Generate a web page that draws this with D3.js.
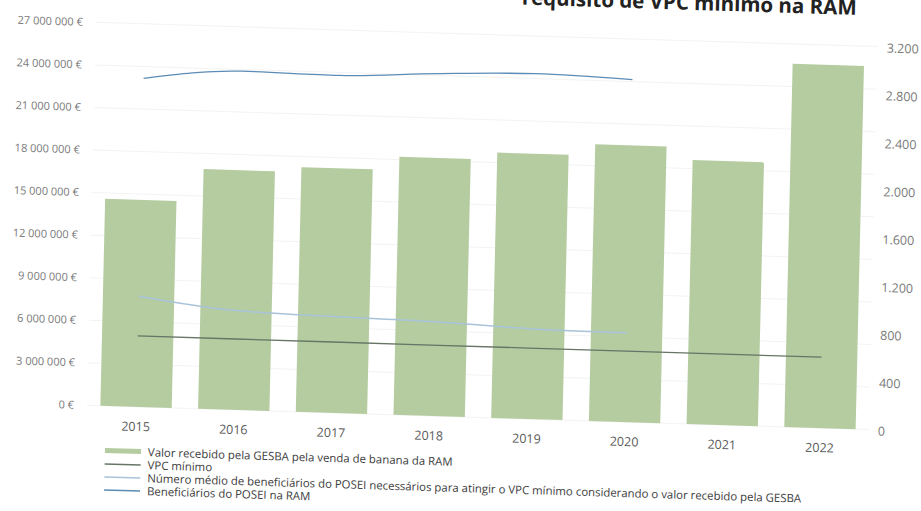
<!DOCTYPE html>
<html>
<head>
<meta charset="utf-8">
<title>VPC mínimo na RAM</title>
<style>
  body { margin: 0; background: #fff; }
  svg { display: block; }
</style>
</head>
<body>
<div id="chart"></div>
<script src="https://cdnjs.cloudflare.com/ajax/libs/d3/7.8.5/d3.min.js"></script>
<script>
// data
var years = ["2015", "2016", "2017", "2018", "2019", "2020", "2021", "2022"];
var valorGesba = [14600000, 16900000, 17250000, 18200000, 18700000, 19500000, 18600000, 25600000];
var vpcMinimo = [5000000, 5000000, 5000000, 5000000, 5000000, 5000000, 5000000, 5000000];
var numeroMedio = [925, 830, 805, 790, 755, 745, null, null];
var beneficiarios = [2745, 2830, 2820, 2860, 2885, 2860, null, null];
var leftTicks = [0, 3e6, 6e6, 9e6, 12e6, 15e6, 18e6, 21e6, 24e6, 27e6];
var rightTicks = [0, 400, 800, 1200, 1600, 2000, 2400, 2800, 3200];
var legendLabels = [
  "Valor recebido pela GESBA pela venda de banana da RAM",
  "VPC mínimo",
  "Número médio de beneficiários do POSEI necessários para atingir o VPC mínimo considerando o valor recebido pela GESBA",
  "Beneficiários do POSEI na RAM"
];

var W = 921, H = 511;
var barColor = "#b4cca0";
var colVpc = "#667566";
var colNum = "#a9c3da";
var colBen = "#5b8cb6";

var svg = d3.select("#chart").append("svg")
    .attr("width", W)
    .attr("height", H);

// clip the title the way the scan cuts it off
svg.append("clipPath").attr("id", "titleClip")
  .append("rect").attr("x", 503).attr("y", 0).attr("width", 420).attr("height", 40);

// the page was scanned slightly askew
var skew = "matrix(1,0.031,-0.023,1,9.36,-4.34)";
var g = svg.append("g").attr("transform", skew);

var x = d3.scaleBand().domain(years).range([87, 869]).paddingInner(0.27).paddingOuter(0.137);
var yL = d3.scaleLinear().domain([0, 27e6]).range([407, 24]);
var yR = d3.scaleLinear().domain([0, 3200]).range([407, 24]);

// gridlines (very faint on the scan)
g.selectAll(".grid").data(leftTicks).enter().append("line")
  .attr("x1", 87).attr("x2", 869)
  .attr("y1", d => yL(d)).attr("y2", d => yL(d))
  .attr("stroke", "#f3f3f3").attr("stroke-width", 1);

// left axis labels
g.selectAll(".lt").data(leftTicks).enter().append("text")
  .attr("x", 74).attr("y", d => yL(d)).attr("dy", "0.35em")
  .attr("text-anchor", "end")
  .attr("font-family", "Open Sans").attr("font-size", "11px").attr("fill", "#7a7a7a")
  .text(d => d3.format(",")(d).replace(/,/g, " ") + " €");

// right axis labels
g.selectAll(".rt").data(rightTicks).enter().append("text")
  .attr("x", 878).attr("y", d => yR(d)).attr("dy", "0.45em")
  .attr("font-family", "Open Sans").attr("font-size", "12.5px").attr("fill", "#7a7a7a")
  .text(d => d3.format(",")(d).replace(/,/g, "."));

// bars
g.selectAll(".bar").data(valorGesba).enter().append("rect")
  .attr("x", (d, i) => x(years[i]))
  .attr("width", x.bandwidth())
  .attr("y", d => yL(d))
  .attr("height", d => yL(0) - yL(d))
  .attr("fill", barColor);

// category labels
g.selectAll(".cat").data(years).enter().append("text")
  .attr("x", d => x(d) + x.bandwidth() / 2).attr("y", 431)
  .attr("text-anchor", "middle")
  .attr("font-family", "Open Sans").attr("font-size", "12.5px").attr("fill", "#5a5a5a")
  .text(d => d);

function drawLine(vals, scale, color, width, curve) {
  var pts = vals.map((v, i) => [x(years[i]) + x.bandwidth() / 2, v]).filter(p => p[1] != null);
  var line = d3.line().x(p => p[0]).y(p => scale(p[1])).curve(curve);
  g.append("path").datum(pts)
    .attr("d", line)
    .attr("fill", "none")
    .attr("stroke", color)
    .attr("stroke-width", width);
}

drawLine(numeroMedio, yR, colNum, 1.5, d3.curveMonotoneX);
drawLine(vpcMinimo, yL, colVpc, 1.3, d3.curveLinear);
drawLine(beneficiarios, yR, colBen, 1.3, d3.curveMonotoneX);

// legend
var legendY = [456, 469, 482, 495];
var lg = g.append("g");
lg.append("rect").attr("x", 106).attr("y", legendY[0] - 7).attr("width", 36).attr("height", 5).attr("fill", barColor);
[colVpc, colNum, colBen].forEach(function(c, i) {
  lg.append("line")
    .attr("x1", 106).attr("x2", 142)
    .attr("y1", legendY[i + 1] - 4).attr("y2", legendY[i + 1] - 4)
    .attr("stroke", c).attr("stroke-width", 1.4);
});
lg.selectAll("text").data(legendLabels).enter().append("text")
  .attr("x", 149).attr("y", (d, i) => legendY[i])
  .attr("font-family", "Open Sans").attr("font-size", "11.4px").attr("fill", "#3c3c3c")
  .text(d => d);

// title (top edge cut off in the scan)
svg.append("g").attr("clip-path", "url(#titleClip)")
  .append("g").attr("transform", skew)
  .append("text")
  .attr("x", 847).attr("y", -7)
  .attr("text-anchor", "end")
  .attr("font-family", "Open Sans").attr("font-weight", "bold").attr("font-size", "20.5px").attr("fill", "#222")
  .text("requisito de VPC mínimo na RAM");
</script>
</body>
</html>
